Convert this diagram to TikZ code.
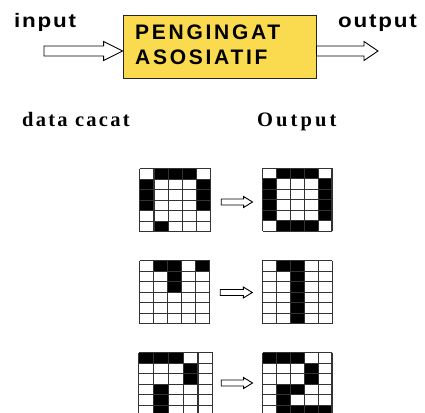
\documentclass[tikz,border=0pt]{standalone}
\usepackage{fontspec}
\setmainfont{Liberation Serif}
\setsansfont{Liberation Sans}
\usetikzlibrary{calc}
\definecolor{boxyellow}{RGB}{250,218,78}

\tikzset{
  blockarr/.style={draw=black, fill=white, line width=0.9pt, line join=miter},
  toplbl/.style={inner sep=0pt, xscale=1.15, font=\sffamily\bfseries\fontsize{19.5}{22}\selectfont\addfontfeature{LetterSpace=8}},
  headlbl/.style={inner sep=0pt, font=\rmfamily\bfseries\fontsize{20.5}{24}\selectfont\addfontfeature{LetterSpace=#1}},
  mainbox/.style={draw=black!85, line width=0.9pt, fill=boxyellow, minimum width=193pt, minimum height=63pt,
    inner sep=0pt},
  boxtxt/.style={inner sep=0pt, align=left,
    font=\sffamily\bfseries\fontsize{21}{25}\selectfont\addfontfeature{LetterSpace=13}},
  gridbox/.style={inner sep=0pt, minimum height=63pt},
  gridline/.style={draw=black!80, line width=1.3pt},
}

% horizontal hollow block arrow: from, to, shaft half height, head half height, head length
\newcommand{\hollowarrow}[5]{%
  \draw[blockarr] let \p1=#1, \p2=#2 in
    (\x1,\y1+#3) -- (\x2-#5,\y1+#3) -- (\x2-#5,\y1+#4) -- (\x2,\y1) --
    (\x2-#5,\y1-#4) -- (\x2-#5,\y1-#3) -- (\x1,\y1-#3) -- cycle;}

% pixel grid: name, centre, cell width, rows
\newcommand{\pixgrid}[4]{%
  \node[gridbox, minimum width=5*#3 pt] (#1) at #2 {};
  \foreach \rw [count=\r from 0] in {#4} {
    \foreach \v [count=\c from 0] in \rw {
      \ifnum\v=1
        \fill[black] ($(#1.north west)+(\c*#3,\r*10.5)$) rectangle ++(#3,10.5);
      \fi
    }
  }
  \foreach \i in {0,...,5}
    \draw[gridline] ($(#1.north west)+(\i*#3,0)$) -- ++(0,63);
  \foreach \j in {0,...,6}
    \draw[gridline] ($(#1.north west)+(0,\j*10.5)$) -- ++(5*#3,0);
}

\begin{document}
\begin{tikzpicture}[x=1pt, y=-1pt]
\useasboundingbox (0,0) rectangle (425,412);

% top block diagram
\node[mainbox] (box) at (219.5,46.5) {};
\node[boxtxt, anchor=west] (boxlbl) at (135,45) {PENGINGAT\\ASOSIATIF};
\node[toplbl, anchor=base west] (inlbl) at (14,28) {input};
\node[toplbl, anchor=base west] (outlbl) at (338,28) {output};
\coordinate (inS) at (44,51);
\coordinate (outE) at (378,51);
\hollowarrow{(inS)}{(box.west)}{5pt}{9.5pt}{19pt}
\hollowarrow{(box.east|-outE)}{(outE)}{5pt}{9.5pt}{14pt}

% headings
\node[headlbl=11, anchor=base west] (hdata) at (22,126.5) {data cacat};
\node[headlbl=15, anchor=base west] (hout) at (257,126.5) {Output};

% grids
\pixgrid{g1l}{(175.5,200.5)}{14.2}{{0,1,1,1,0},{1,0,0,0,1},{1,0,0,0,1},{1,0,0,0,1},{0,0,0,0,0},{0,1,0,0,0}}
\pixgrid{g1r}{(297.5,200)}{13.9}{{0,1,1,1,0},{1,0,0,0,1},{1,0,0,0,1},{1,0,0,0,1},{1,0,0,0,1},{0,1,1,1,0}}
\pixgrid{g2l}{(175,292.5)}{14.0}{{0,1,1,0,1},{0,0,1,0,0},{0,0,1,0,0},{0,0,0,0,0},{0,0,0,0,0},{0,0,0,0,0}}
\pixgrid{g2r}{(297.5,292.5)}{14.0}{{0,1,1,0,0},{0,0,1,0,0},{0,0,1,0,0},{0,0,1,0,0},{0,0,1,0,0},{0,0,1,0,0}}
\pixgrid{g3l}{(176,384.5)}{14.8}{{1,1,1,0,0},{0,0,0,1,0},{0,0,0,1,0},{0,1,0,0,0},{0,1,0,0,0},{0,1,0,0,0}}
\pixgrid{g3r}{(297.5,384.5)}{13.9}{{1,1,1,0,0},{0,0,0,1,0},{0,0,0,1,0},{0,1,1,0,0},{0,1,0,0,0},{0,1,1,1,1}}

% small arrows between grids
\hollowarrow{($(g1l.east)+(10,1.5)$)}{($(g1r.west)+(-10,1.5)$)}{3pt}{5.5pt}{9pt}
\hollowarrow{($(g2l.east)+(10,0)$)}{($(g2r.west)+(-10,0)$)}{3pt}{5.5pt}{9pt}
\hollowarrow{($(g3l.east)+(8,-1.5)$)}{($(g3r.west)+(-10,-1.5)$)}{3pt}{5.5pt}{9pt}
\end{tikzpicture}
\end{document}
